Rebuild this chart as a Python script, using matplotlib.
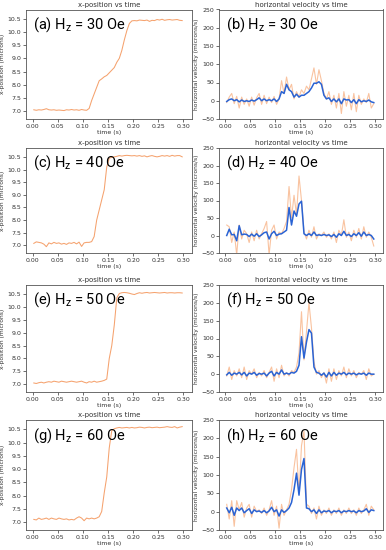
import numpy as np
import matplotlib
matplotlib.use('Agg')
import matplotlib.pyplot as plt
from matplotlib import font_manager

plt.rcParams['font.family'] = ['DejaVu Sans']

# narrow sans for the big panel labels, if one is there
names = {f.name for f in font_manager.fontManager.ttflist}
LABEL_FONT = 'Liberation Sans Narrow' if 'Liberation Sans Narrow' in names else 'Roboto'
plt.rcParams['mathtext.fontset'] = 'custom'
plt.rcParams['mathtext.rm'] = LABEL_FONT

# ── data ────────────────────────────────────────────────────
time = np.linspace(0.0025, 0.2975, 60)

labels = ['a', 'b', 'c', 'd', 'e', 'f', 'g', 'h']
fields = [30, 40, 50, 60]

pos_30 = [7.05, 7.03, 7.05, 7.04, 7.06, 7.09, 7.05, 7.04, 7.05, 7.03,
          7.04, 7.03, 7.02, 7.05, 7.04, 7.06, 7.04, 7.05, 7.03, 7.06,
          7.04, 7.03, 7.10, 7.40, 7.65, 7.90, 8.15, 8.22, 8.30, 8.35,
          8.45, 8.55, 8.65, 8.85, 9.00, 9.30, 9.70, 10.05, 10.32, 10.42,
          10.43, 10.42, 10.45, 10.44, 10.43, 10.45, 10.40, 10.44, 10.43, 10.47,
          10.45, 10.48, 10.44, 10.46, 10.47, 10.45, 10.46, 10.47, 10.44, 10.43]
pos_40 = [7.08, 7.14, 7.12, 7.10, 7.05, 6.95, 7.10, 7.06, 7.12, 7.08,
          7.10, 7.05, 7.08, 7.04, 7.10, 7.08, 7.12, 7.06, 7.13, 6.96,
          7.10, 7.12, 7.12, 7.15, 7.35, 8.00, 8.40, 8.80, 9.20, 10.10,
          10.45, 10.48, 10.50, 10.52, 10.55, 10.53, 10.55, 10.56, 10.55, 10.54,
          10.55, 10.53, 10.55, 10.52, 10.54, 10.50, 10.53, 10.55, 10.52, 10.50,
          10.52, 10.55, 10.53, 10.55, 10.52, 10.56, 10.53, 10.55, 10.55, 10.50]
pos_50 = [7.05, 7.03, 7.06, 7.08, 7.05, 7.08, 7.10, 7.08, 7.12, 7.10,
          7.08, 7.12, 7.10, 7.08, 7.10, 7.12, 7.10, 7.08, 7.10, 7.12,
          7.08, 7.05, 7.10, 7.08, 7.12, 7.08, 7.10, 7.12, 7.15, 7.20,
          8.00, 8.50, 9.30, 10.35, 10.52, 10.55, 10.56, 10.55, 10.53, 10.50,
          10.48, 10.52, 10.55, 10.53, 10.55, 10.56, 10.54, 10.55, 10.56, 10.55,
          10.54, 10.55, 10.56, 10.54, 10.55, 10.55, 10.54, 10.55, 10.55, 10.54]
pos_60 = [7.10, 7.08, 7.15, 7.10, 7.12, 7.15, 7.10, 7.15, 7.12, 7.10,
          7.15, 7.12, 7.10, 7.12, 7.08, 7.10, 7.08, 7.15, 7.20, 7.15,
          7.05, 7.15, 7.12, 7.15, 7.12, 7.15, 7.20, 7.40, 8.10, 8.70,
          9.80, 10.45, 10.52, 10.55, 10.57, 10.55, 10.56, 10.57, 10.55, 10.57,
          10.55, 10.56, 10.58, 10.57, 10.55, 10.57, 10.58, 10.56, 10.57, 10.58,
          10.56, 10.57, 10.58, 10.60, 10.58, 10.57, 10.60, 10.55, 10.58, 10.60]

vel_raw_30 = [-5, 10, 20, -8, 12, -20, 10, -10, 5, -15,
              10, -12, 8, 20, -10, 15, -8, 10, -5, 12,
              -10, 5, 55, 20, 65, 30, 45, 5, 25, 10,
              30, 20, 40, 30, 60, 90, 45, 85, 55, 20,
              5, 25, -10, 15, -20, 20, -35, 25, -15, 15,
              -25, 20, -30, 15, -10, 5, -5, 20, -20, -8]
vel_smooth_30 = [-2, 3, 5, 0, 3, -3, 2, -2, 0, -2,
                 2, -1, 3, 8, 0, 5, 0, 3, 0, 5,
                 -2, 5, 25, 20, 45, 30, 25, 10, 18, 10,
                 15, 15, 20, 25, 35, 48, 48, 52, 45, 15,
                 5, 8, -2, 5, -3, 5, -8, 5, 2, 3,
                 -5, 3, -8, 3, -3, 0, -2, 2, -3, -5]
vel_raw_40 = [30, 25, -20, 10, -55, 30, -10, 15, 5, -20,
              10, -15, 15, -10, 5, 20, 40, -55, 15, 30,
              -10, 10, 5, 20, 40, 140, 50, 115, 60, 170,
              100, 10, -10, 15, -5, 25, -10, 5, 0, 10,
              -5, 5, -10, 10, -20, 15, 0, 45, -5, 10,
              -15, 15, -5, 20, -10, 25, -5, 10, -5, -30]
vel_smooth_40 = [0, 18, 2, 3, -15, 28, 2, 4, 3, -3,
                 4, -2, 5, -3, 2, 8, 10, -10, 5, 12,
                 0, 4, 5, 10, 15, 80, 30, 70, 55, 90,
                 98, 5, 0, 5, 0, 10, 0, 2, 0, 3,
                 0, 2, -3, 3, -5, 5, 0, 12, 0, 3,
                 -3, 5, 0, 8, -2, 10, 0, 3, 0, -10]
vel_raw_50 = [-5, 20, -15, 10, -5, 15, -10, 20, -15, 10,
              0, 15, -10, 5, -5, 10, -10, 5, 20, -20,
              15, -10, 25, -5, 5, -5, 10, 5, 20, 60,
              175, 40, 120, 200, 130, 35, 0, 10, -10, 5,
              -25, 15, -20, 15, -15, 10, -5, 20, -10, 15,
              -5, 10, -10, 5, 0, 10, -15, 15, -5, 0]
vel_smooth_50 = [-2, 5, -3, 3, 0, 5, -2, 5, -5, 3,
                 0, 5, -3, 2, 0, 3, -5, 3, 8, -5,
                 5, 0, 12, 0, 3, 0, 5, 3, 8, 25,
                 105, 45, 90, 125, 115, 20, 5, 3, -3, 3,
                 -8, 5, -5, 5, -3, 3, 0, 5, -2, 3,
                 0, 3, -2, 2, 0, 3, -3, 3, 0, 0]
vel_raw_60 = [20, -20, 30, -40, 30, 5, 25, -15, 10, 20,
              -15, 15, 0, 5, -5, 10, -10, 5, 30, -10,
              15, -45, 20, -10, 5, 20, 60, 120, 170, 50,
              180, 220, 20, 15, -5, 10, -20, 15, -10, 5,
              -5, 10, -10, 5, -5, 10, -10, 5, -5, 10,
              -5, 5, -10, 10, -5, 5, 20, -10, 15, 5]
vel_smooth_60 = [10, -3, 12, -10, 10, 3, 10, -3, 3, 8,
                 -5, 5, 0, 2, -2, 3, -3, 2, 12, 0,
                 5, -12, 5, -2, 3, 10, 25, 60, 105, 45,
                 115, 145, 10, 8, 0, 5, -5, 5, -3, 2,
                 0, 3, -3, 2, 0, 3, -3, 2, 0, 3,
                 0, 2, -3, 3, 0, 2, 8, -2, 5, 3]

positions = [pos_30, pos_40, pos_50, pos_60]
vel_raw = [vel_raw_30, vel_raw_40, vel_raw_50, vel_raw_60]
vel_smooth = [vel_smooth_30, vel_smooth_40, vel_smooth_50, vel_smooth_60]

# ── figure ──────────────────────────────────────────────────
W, H = 386, 550
fig = plt.figure(figsize=(W / 100, H / 100), dpi=100)

rows = [(9.5, 119), (148, 253), (285, 392), (420, 530)]   # top, bottom in px
cols = [(26, 191.5), (219, 383)]                            # left, right in px

ORANGE = '#f5a26e'
ORANGE_LIGHT = '#f9c3a0'
BLUE = '#2a63d4'


def style(ax, title, ylabel):
    ax.set_title(title, fontsize=5, pad=2, color='#333333')
    ax.set_xlabel('time (s)', fontsize=4.5, labelpad=1, color='#333333')
    ax.set_ylabel(ylabel, fontsize=4.3, labelpad=1.5, color='#333333')
    ax.tick_params(labelsize=4.5, length=2, width=0.5, pad=1.5, colors='#333333')
    ax.set_xlim(-0.013, 0.316)
    ax.set_xticks([0.0, 0.05, 0.10, 0.15, 0.20, 0.25, 0.30])
    ax.set_xticklabels(['0.00', '0.05', '0.10', '0.15', '0.20', '0.25', '0.30'])
    for s in ax.spines.values():
        s.set_linewidth(0.6)
        s.set_color('#555555')


def panel_rect(r, c):
    top, bot = rows[r]
    left, right = cols[c]
    return [left / W, 1 - bot / H, (right - left) / W, (bot - top) / H]


for r in range(4):
    # position panel
    ax = fig.add_axes(panel_rect(r, 0))
    ax.plot(time, positions[r], color=ORANGE, lw=0.75)
    ax.set_ylim(6.7, 10.85)
    ax.set_yticks([7.0, 7.5, 8.0, 8.5, 9.0, 9.5, 10.0, 10.5])
    style(ax, 'x-position vs time', 'x-position (microns)')
    ax.text(0.04, 0.86, f'({labels[2 * r]}) H$_\\mathregular{{z}}$ = {fields[r]} Oe',
            transform=ax.transAxes, fontsize=10.5, family=[LABEL_FONT, 'DejaVu Sans'],
            va='center')

    # velocity panel
    ax = fig.add_axes(panel_rect(r, 1))
    ax.plot(time, vel_raw[r], color=ORANGE_LIGHT, lw=0.8)
    ax.plot(time, vel_smooth[r], color=BLUE, lw=1.1)
    ax.set_ylim(-50, 250)
    ax.set_yticks([-50, 0, 50, 100, 150, 200, 250])
    style(ax, 'horizontal velocity vs time', 'horizontal velocity (microns/s)')
    ax.text(0.04, 0.86, f'({labels[2 * r + 1]}) H$_\\mathregular{{z}}$ = {fields[r]} Oe',
            transform=ax.transAxes, fontsize=10.5, family=[LABEL_FONT, 'DejaVu Sans'],
            va='center')

fig.savefig('out.png', dpi=100)
